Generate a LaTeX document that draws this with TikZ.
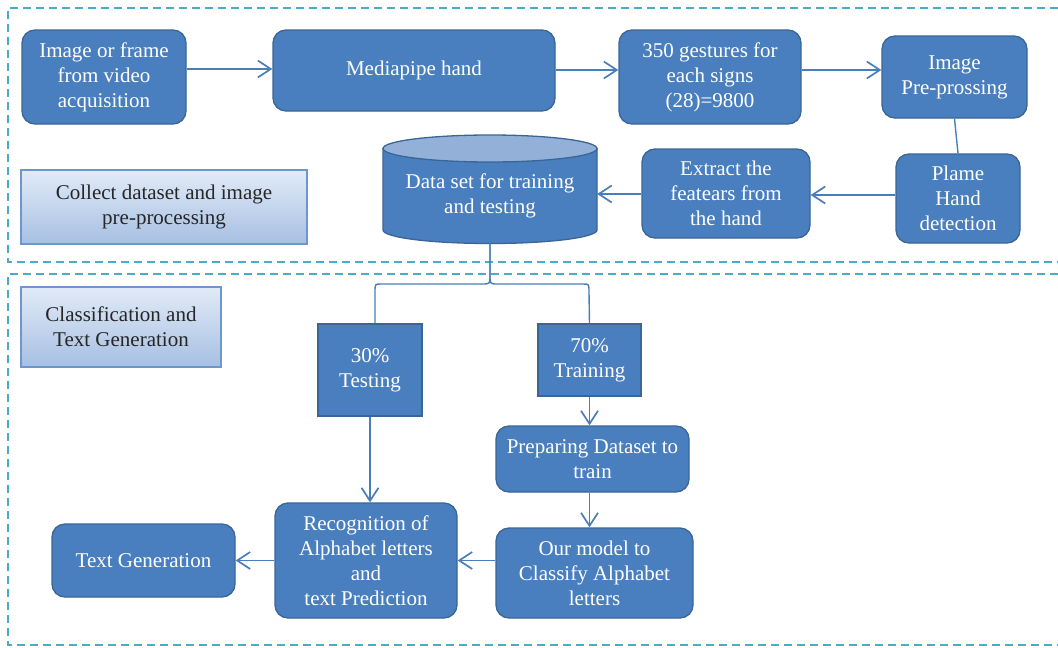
\documentclass[tikz,border=0pt]{standalone}
\usepackage{fontspec}
\setmainfont{Liberation Serif}
\usetikzlibrary{arrows.meta,calc}
\definecolor{boxfill}{HTML}{4A7FBF}
\definecolor{boxline}{HTML}{3A6596}
\definecolor{arrowc}{HTML}{4A7EBB}
\definecolor{framec}{HTML}{4BACC6}
\definecolor{cyltop}{HTML}{93B1D8}
\definecolor{lblTop}{HTML}{E2EBF7}
\definecolor{lblBot}{HTML}{A6BFE3}
\definecolor{lblLine}{HTML}{6D96CF}
\begin{document}
\begin{tikzpicture}[x=1pt,y=-1pt,
  txt/.style={font=\fontsize{21}{25}\selectfont, align=center, inner sep=0pt},
  rbox/.style={txt, draw=boxline, fill=boxfill, text=white, line width=1.3pt, rounded corners=13pt},
  sbox/.style={txt, draw=boxline, fill=boxfill, text=white, line width=1.3pt},
  lbl/.style={txt, draw=lblLine, line width=1.3pt, top color=lblTop, bottom color=lblBot, text=black!85},
  conn/.style={draw=arrowc, line width=1.9pt, -{Straight Barb[length=13pt,width=17pt,line width=1.7pt]}},
  plain/.style={draw=arrowc, line width=1.4pt},
  frame/.style={draw=framec, line width=1.3pt, dash pattern=on 8pt off 5pt}
]
\useasboundingbox (0,0) rectangle (1058,648);
% frames
\draw[frame] (1058,8) -- (8,8) -- (8,262) -- (1058,262);
\draw[frame] (1058,274) -- (8,274) -- (8,645) -- (1058,645);

% top section
\node[rbox, minimum width=164pt, minimum height=94pt] (n1) at (104,77) {Image or frame\\from video\\acquisition};
\node[rbox, minimum width=282pt, minimum height=81pt] (n2) at (414,70.5) {Mediapipe hand};
\node[rbox, minimum width=182pt, minimum height=94pt] (n3) at (710,77) {350 gestures for\\each signs\\(28)=9800};
\node[rbox, minimum width=145pt, minimum height=82pt] (n4) at (954.5,77) {Image\\Pre-prossing};
\node[rbox, minimum width=124pt, minimum height=89pt] (n5) at (958,198.5) {Plame\\Hand\\detection};
\node[rbox, minimum width=168pt, minimum height=89pt] (n6) at (726,193.5) {Extract the\\featears from\\the hand};

% cylinder
\draw[boxline, fill=boxfill, line width=1.3pt]
  (383,148.5) -- (383,230) arc[start angle=180, end angle=0, x radius=107, y radius=13.5] -- (597,148.5) -- cycle;
\draw[boxline, fill=cyltop, line width=1.3pt] (490,148.5) ellipse[x radius=107, y radius=13.5];
\node[txt, text=white, minimum width=214pt, minimum height=81.5pt] (cyl) at (490,196) {Data set for training\\and testing};
\coordinate (cb) at (490,243.5);

\node[lbl, minimum width=286pt, minimum height=74pt] (lab1) at (164,207) {Collect dataset and image\\pre-processing};

% bottom section
\node[lbl, minimum width=200pt, minimum height=80pt] (lab2) at (121,327) {Classification and\\Text Generation};
\node[sbox, minimum width=104pt, minimum height=92pt] (test) at (370,370) {30\%\\Testing};
\node[sbox, minimum width=103pt, minimum height=72pt] (train) at (589.5,360) {70\%\\Training};
\node[rbox, minimum width=193pt, minimum height=66pt] (prep) at (592.5,459) {Preparing Dataset to\\train};
\node[rbox, minimum width=197pt, minimum height=90pt] (model) at (594.5,573) {Our model to\\Classify Alphabet\\letters};
\node[rbox, minimum width=182pt, minimum height=115pt] (recog) at (366,560.5) {Recognition of\\Alphabet letters\\and\\text Prediction};
\node[rbox, minimum width=183pt, minimum height=73pt] (tg) at (143.5,560.5) {Text Generation};

% connectors
\draw[conn] (n1.east |- 0,69) -- (n2.west |- 0,69);
\draw[conn] (n2.east |- 0,70) -- (n3.west |- 0,70);
\draw[conn] (n3.east |- 0,70) -- (n4.west |- 0,70);
\draw[plain] (n4.south) -- (n5.north);
\draw[conn] (n5.west |- 0,195) -- (n6.east |- 0,195);
\draw[conn] (n6.west |- 0,194) -- (cyl.east |- 0,194);

% split brace
\draw[plain] (cb) -- (490,275) .. controls (490,284) .. (482,284) -- (381,284) .. controls (375,284) .. (375,292) -- (test.north -| 375,0);
\draw[plain] (cb) -- (490,275) .. controls (490,284) .. (498,284) -- (583,284) .. controls (589,284) .. (589,292) -- (train.north);

\draw[conn] (test.south) -- (recog.north -| test.south);
\draw[conn] (train.south) -- (prep.north -| train.south);
\draw[conn] (prep.south -| train.south) -- (model.north -| train.south);
\draw[conn] (model.west |- recog.east) -- (recog.east);
\draw[conn] (recog.west) -- (tg.east);
\end{tikzpicture}
\end{document}
